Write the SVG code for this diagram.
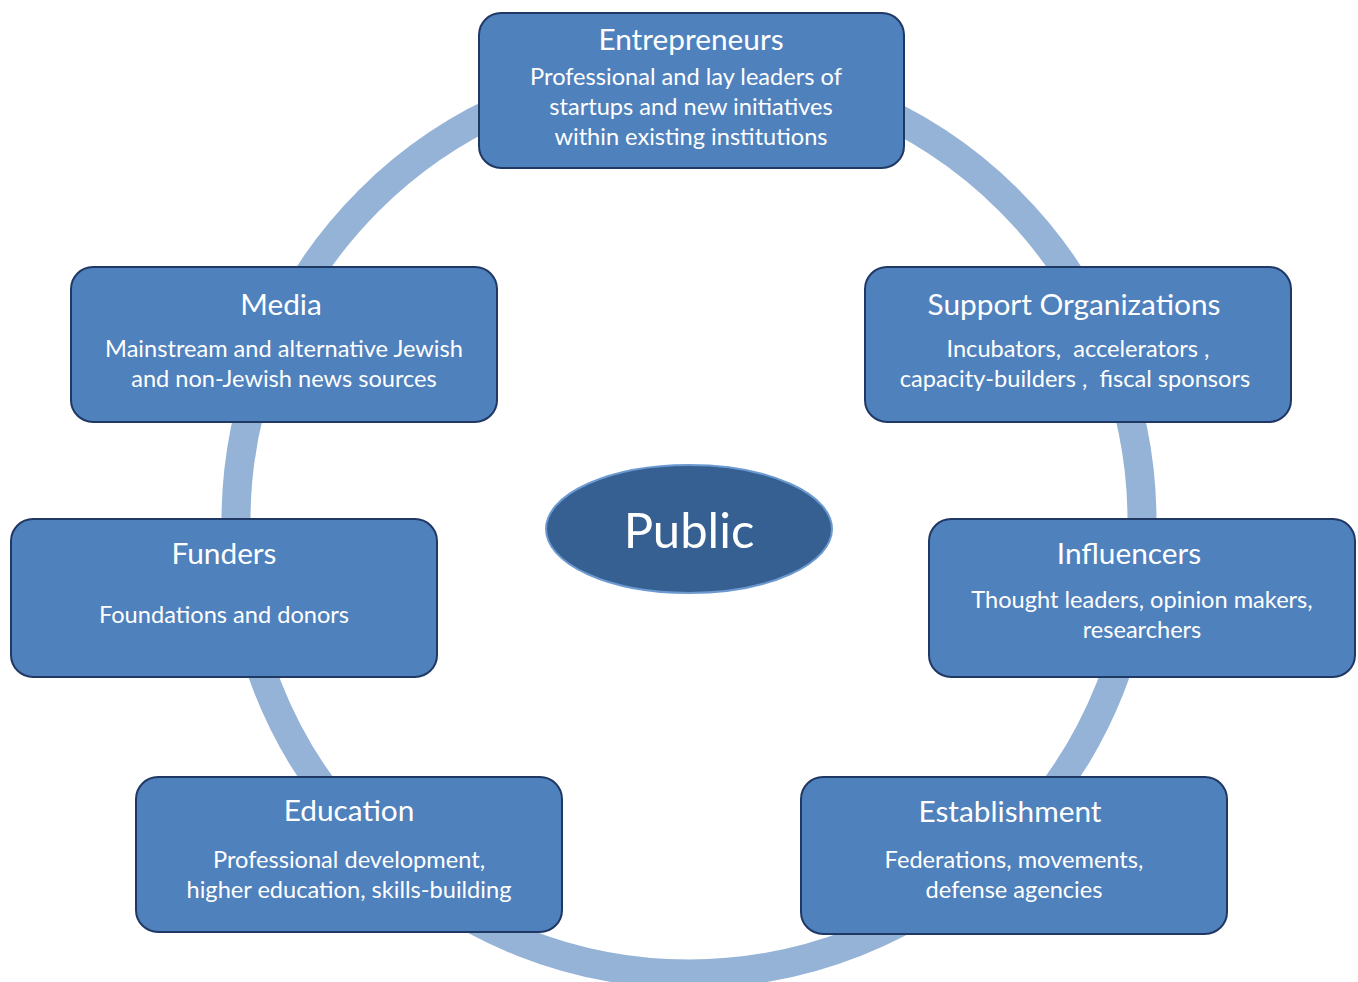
<svg xmlns="http://www.w3.org/2000/svg" width="1358" height="982" viewBox="0 0 1358 982">
<style>
.box{fill:#4F81BD;stroke:#203864;stroke-width:2}
.t{font-family:Lato,"Open Sans","Liberation Sans",sans-serif;fill:#fff;text-anchor:middle}
.h{font-size:29.8px}
.s{font-size:23.6px}
</style>
<rect width="1358" height="982" fill="#fff"/>
<g id="connectors">
<circle cx="689" cy="521" r="453" fill="none" stroke="#95B3D7" stroke-width="29"/>
</g>
<g id="public">
<ellipse cx="689" cy="529" rx="143" ry="64" fill="#366092" stroke="#6C9AD0" stroke-width="2"/>
<text class="t" x="689" y="548" font-size="49">Public</text>
</g>
<g id="entrepreneurs">
<rect class="box" x="479" y="13" width="425" height="155" rx="22"/>
<text class="t h" x="691" y="50">Entrepreneurs</text>
<text class="t s" x="686" y="85">Professional and lay leaders of</text>
<text class="t s" x="691" y="115">startups and new initiatives</text>
<text class="t s" x="691" y="145">within existing institutions</text>
</g>
<g id="media">
<rect class="box" x="71" y="267" width="426" height="155" rx="22"/>
<text class="t h" x="281" y="315">Media</text>
<text class="t s" x="284" y="357">Mainstream and alternative Jewish</text>
<text class="t s" x="284" y="387">and non-Jewish news sources</text>
</g>
<g id="support">
<rect class="box" x="865" y="267" width="426" height="155" rx="22"/>
<text class="t h" x="1074" y="315">Support Organizations</text>
<text class="t s" x="1078" y="357" xml:space="preserve">Incubators,  accelerators ,</text>
<text class="t s" x="1075" y="387" xml:space="preserve">capacity-builders ,  fiscal sponsors</text>
</g>
<g id="funders">
<rect class="box" x="11" y="519" width="426" height="158" rx="22"/>
<text class="t h" x="224" y="564">Funders</text>
<text class="t s" x="224" y="623">Foundations and donors</text>
</g>
<g id="influencers">
<rect class="box" x="929" y="519" width="426" height="158" rx="22"/>
<text class="t h" x="1129" y="564">Influencers</text>
<text class="t s" x="1142" y="608">Thought leaders, opinion makers,</text>
<text class="t s" x="1142" y="638">researchers</text>
</g>
<g id="education">
<rect class="box" x="136" y="777" width="426" height="155" rx="22"/>
<text class="t h" x="349" y="821">Education</text>
<text class="t s" x="349" y="868">Professional development,</text>
<text class="t s" x="349" y="898">higher education, skills-building</text>
</g>
<g id="establishment">
<rect class="box" x="801" y="777" width="426" height="157" rx="22"/>
<text class="t h" x="1010" y="822">Establishment</text>
<text class="t s" x="1014" y="868">Federations, movements,</text>
<text class="t s" x="1014" y="898">defense agencies</text>
</g>
</svg>
